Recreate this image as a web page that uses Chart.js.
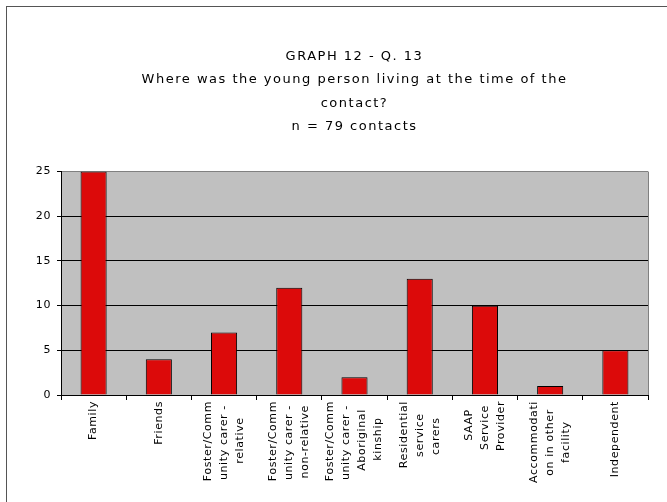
<!DOCTYPE html>
<html>
<head>
<meta charset="utf-8">
<script src="https://cdn.jsdelivr.net/npm/chart.js@4.4.0/dist/chart.umd.min.js"></script>
<style>
  html, body { margin: 0; padding: 0; background: #fff; overflow: hidden; }
  canvas { display: block; }
</style>
</head>
<body>
<canvas id="myChart" width="667" height="502"></canvas>
<script>
var places = [
  ['Family'],
  ['Friends'],
  ['Foster/Comm', 'unity carer -', 'relative'],
  ['Foster/Comm', 'unity carer -', 'non-relative'],
  ['Foster/Comm', 'unity carer -', 'Aboriginal', 'kinship'],
  ['Residential', 'service', 'carers'],
  ['SAAP', 'Service', 'Provider'],
  ['Accommodati', 'on in other', 'facility'],
  ['Independent']
];
var contacts = [25, 4, 7, 12, 2, 13, 10, 1, 5];
var yTicks = [0, 5, 10, 15, 20, 25];
var titleLines = [
  'GRAPH 12 - Q. 13',
  'Where was the young person living at the time of the',
  'contact?',
  'n = 79 contacts'
];

var fontFamily = '"DejaVu Sans", Verdana, sans-serif';
var labelSpacing = '0.6px';
var titleSpacing = '1.5px';
var lineGap = 16;

// centre each line of a label inside its block (Chart.js right-aligns rotated labels)
function centreLines(lines) {
  var c = document.createElement('canvas').getContext('2d');
  c.font = '11px ' + fontFamily;
  c.letterSpacing = labelSpacing;
  var widths = lines.map(function(l) { return c.measureText(l).width; });
  var max = Math.max.apply(null, widths);
  var sp = c.measureText(' ').width;
  var out = lines.map(function(l, i) {
    return l + ' '.repeat(Math.max(0, Math.round((max - widths[i]) / 2 / sp)));
  });
  if (out.length === 1) out = ['', out[0]];
  return out;
}

var spacingPlugin = {
  id: 'spacing',
  beforeLayout: function(chart) { chart.ctx.letterSpacing = labelSpacing; },
  beforeDraw: function(chart) {
    var ctx = chart.ctx, a = chart.chartArea;
    ctx.letterSpacing = titleSpacing;
    ctx.save();
    ctx.strokeStyle = '#555555';
    ctx.lineWidth = 1;
    ctx.strokeRect(6.5, 6.5, 720, 560);
    ctx.fillStyle = '#c0c0c0';
    ctx.fillRect(a.left, a.top, a.right - a.left, a.bottom - a.top);
    ctx.strokeStyle = '#808080';
    ctx.beginPath();
    ctx.moveTo(Math.round(a.right) + 0.5, a.top);
    ctx.lineTo(Math.round(a.right) + 0.5, a.bottom);
    ctx.stroke();
    ctx.restore();
  },
  afterDatasetsDraw: function(chart) { chart.ctx.letterSpacing = labelSpacing; }
};

var chart = new Chart('myChart', {
  type: 'bar',
  data: {
    labels: places.map(centreLines),
    datasets: [{
      data: contacts,
      backgroundColor: '#dc0a0a',
      borderColor: '#000000',
      borderWidth: 1,
      barPercentage: 0.4,
      categoryPercentage: 1
    }]
  },
  plugins: [spacingPlugin],
  options: {
    responsive: false,
    animation: false,
    layout: { padding: { top: 20, left: 6, right: 19, bottom: 0 } },
    plugins: {
      legend: { display: false },
      tooltip: { enabled: false },
      title: {
        display: true,
        text: titleLines,
        fullSize: false,
        color: '#000000',
        font: { family: fontFamily, size: 13, weight: 'normal', lineHeight: 1.8 },
        padding: { top: 25, bottom: 33 }
      }
    },
    scales: {
      x: {
        afterFit: function(s) { s.height = 107; },
        grid: { offset: true, drawOnChartArea: false, tickLength: 5, tickColor: '#000000' },
        border: { color: '#000000', width: 1 },
        ticks: {
          z: 1,
          autoSkip: false,
          minRotation: 90,
          maxRotation: 90,
          padding: 1,
          labelOffset: -1.5 * lineGap,
          // odd line counts skip Chart.js's half-line shift so every block centres on its bar
          showLabelBackdrop: function(c) {
            return c.index !== undefined && places[c.index] && places[c.index].length !== 4;
          },
          backdropColor: 'rgba(0,0,0,0)',
          color: '#000000',
          font: { family: fontFamily, size: 11, lineHeight: lineGap / 11 }
        }
      },
      y: {
        min: 0,
        max: 25,
        afterFit: function(s) { s.width = 55; },
        afterBuildTicks: function(s) {
          s.ticks = yTicks.map(function(v) { return { value: v }; });
        },
        grid: {
          color: function(c) { return c.tick && c.tick.value === 25 ? '#808080' : '#000000'; },
          tickColor: '#000000',
          tickLength: 4
        },
        border: { color: '#000000', width: 1 },
        ticks: {
          z: 1,
          padding: 6,
          color: '#000000',
          font: { family: fontFamily, size: 11 }
        }
      }
    }
  }
});
</script>
</body>
</html>
